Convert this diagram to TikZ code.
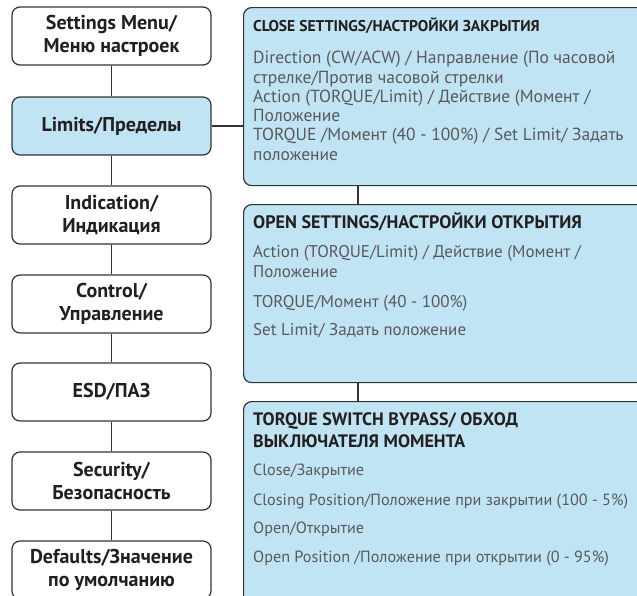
\documentclass[tikz,border=0pt]{standalone}
\usepackage{fontspec}
\setmainfont{PT Sans}
\definecolor{boxfill}{RGB}{193,228,244}
\definecolor{edge}{RGB}{50,50,52}
\definecolor{ink}{RGB}{35,31,32}
\definecolor{body}{RGB}{88,89,91}
\tikzset{
  menubox/.style={draw=edge, line width=1.2pt, rounded corners=8pt, fill=white,
    minimum width=199pt, minimum height=58pt, inner sep=0pt, align=center,
    text=ink, font=\fontsize{20}{23}\selectfont\bfseries},
  current/.style={fill=boxfill},
  infobox/.style={draw=edge, line width=1.2pt, rounded corners=8pt, fill=boxfill,
    minimum width=420pt, inner sep=0pt, anchor=north west},
  head/.style={anchor=base west, inner sep=0pt, text=ink, font=\fontsize{#1}{20}\selectfont\bfseries},
  item/.style={anchor=base west, inner sep=0pt, text=body, font=\fontsize{#1}{20}\selectfont},
  item/.default=16.5,
  link/.style={draw=edge, line width=1.2pt}
}
\begin{document}
\begin{tikzpicture}[x=1pt,y=-1pt]
\useasboundingbox (0,0) rectangle (637,595);
\clip (0,0) rectangle (637,595);

% menu column
\node[menubox] (m1) at (111.5,36) {Settings Menu/\\Меню настроек};
\node[menubox,current] (m2) at (111.5,126) {Limits/Пределы};
\node[menubox] (m3) at (111.5,215) {Indication/\\Индикация};
\node[menubox] (m4) at (111.5,304) {Control/\\Управление};
\node[menubox] (m5) at (111.5,392) {ESD/ПАЗ};
\node[menubox] (m6) at (111.5,481) {Security/\\Безопасность};
\node[menubox] (m7) at (111.5,570) {Defaults/Значение\\по умолчанию};

\foreach \a/\b in {m1/m2,m2/m3,m3/m4,m4/m5,m5/m6,m6/m7}
  \draw[link] (\a) -- (\b);

% settings panels
\node[infobox, minimum height=178pt] (r1) at (243,7) {};
\node[infobox, minimum height=178pt] (r2) at (243,204) {};
\node[infobox, minimum height=220pt] (r3) at (243,401) {};

\coordinate (spine) at (358,0);
\draw[link] (m2.east) -- (m2.east -| r1.west);
\draw[link] (r1.south -| spine) -- (r2.north -| spine);
\draw[link] (r2.south -| spine) -- (r3.north -| spine);

% close settings
\node[head=15.6] (t1) at (253,31) {CLOSE SETTINGS/НАСТРОЙКИ ЗАКРЫТИЯ};
\node[item=17.5] (a1) at (253,63) {Direction (CW/ACW) / Направление (По часовой};
\node[item=17.5] (a2) at (253,83) {стрелке/Против часовой стрелки};
\node[item=17.5] (a3) at (253,102) {Action (TORQUE/Limit) / Действие (Момент /};
\node[item=17.5] (a4) at (253,121) {Положение};
\node[item=17.5] (a5) at (253,140) {TORQUE /Момент (40 - 100\%) / Set Limit/ Задать};
\node[item=17.5] (a6) at (253,160) {положение};

% open settings
\node[head=18.1] (t2) at (253,228) {OPEN SETTINGS/НАСТРОЙКИ ОТКРЫТИЯ};
\node[item=17] (b1) at (253,257) {Action (TORQUE/Limit) / Действие (Момент /};
\node[item=17] (b2) at (253,277) {Положение};
\node[item=17] (b3) at (253,307) {TORQUE/Момент (40 - 100\%)};
\node[item=17] (b4) at (253,335) {Set Limit/ Задать положение};

% torque switch bypass
\node[head=18] (t3) at (253,425) {TORQUE SWITCH BYPASS/ ОБХОД};
\node[head=18] (t3b) at (253,447) {ВЫКЛЮЧАТЕЛЯ МОМЕНТА};
\node[item=16.2] (c1) at (253,475) {Close/Закрытие};
\node[item=16.2] (c2) at (253,505) {Closing Position/Положение при закрытии (100 - 5\%)};
\node[item=16.2] (c3) at (253,533) {Open/Открытие};
\node[item=16.2] (c4) at (253,562) {Open Position /Положение при открытии (0 - 95\%)};
\end{tikzpicture}
\end{document}
